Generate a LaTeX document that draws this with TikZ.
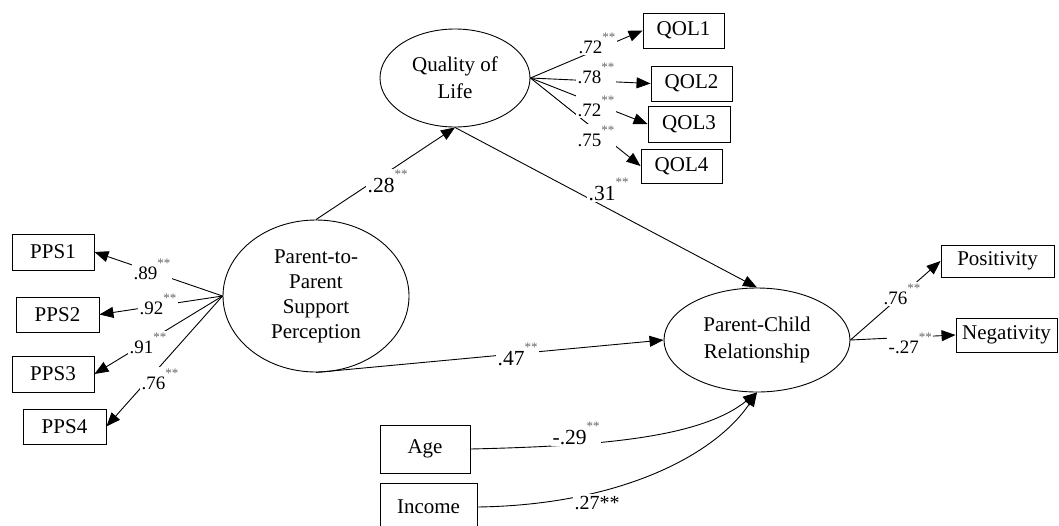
\documentclass[tikz,border=0pt]{standalone}
\usepackage{fontspec}
\setmainfont{Liberation Serif}
\usetikzlibrary{arrows.meta,shapes.geometric}
\newcommand\sig{\raisebox{0.62em}{\fontsize{13}{13}\selectfont\color{black!60}**}}
\begin{document}
\begin{tikzpicture}[x=1pt,y=-1pt,
  lat/.style={ellipse,draw,line width=0.9pt,inner sep=0pt,align=center},
  obs/.style={rectangle,draw,line width=0.9pt,inner sep=0pt,font=\fontsize{21}{21}\selectfont},
  conn/.style={line width=0.9pt,-{Triangle[length=14pt,width=11pt]}},
  lab/.style={fill=white,inner sep=1.5pt,anchor=base west,font=\fontsize{21.5}{21.5}\selectfont},
  sl/.style={lab,font=\fontsize{19}{19}\selectfont}]
\useasboundingbox (0,0) rectangle (1059,525);
% latent variables
\node[lat,minimum width=150pt,minimum height=98pt,font=\fontsize{21}{27}\selectfont] (qol) at (455,78) {Quality of\\Life};
\node[lat,minimum width=186pt,minimum height=152pt,font=\fontsize{21}{25}\selectfont] (pps) at (316,296) {Parent-to-\\Parent\\Support\\Perception};
\node[lat,minimum width=186pt,minimum height=104pt,font=\fontsize{21}{27}\selectfont] (pc) at (757,340) {Parent-Child\\Relationship};
% observed
\node[obs,minimum width=81pt,minimum height=35pt] (q1) at (683.5,30.5) {QOL1};
\node[obs,minimum width=81pt,minimum height=35pt] (q2) at (691.5,83.5) {QOL2};
\node[obs,minimum width=82pt,minimum height=36pt] (q3) at (689,124) {QOL3};
\node[obs,minimum width=81pt,minimum height=34pt] (q4) at (681.5,166) {QOL4};
\node[obs,minimum width=82pt,minimum height=36pt] (p1) at (53,252) {PPS1};
\node[obs,minimum width=83pt,minimum height=35pt] (p2) at (57.5,314.5) {PPS2};
\node[obs,minimum width=82pt,minimum height=36pt] (p3) at (53,374) {PPS3};
\node[obs,minimum width=83pt,minimum height=35pt] (p4) at (64.5,426.5) {PPS4};
\node[obs,minimum width=113pt,minimum height=32pt] (pos) at (997.5,261) {Positivity};
\node[obs,minimum width=101pt,minimum height=34pt] (neg) at (1006.5,335) {Negativity};
\node[obs,minimum width=90pt,minimum height=48pt] (age) at (425,449) {Age};
\node[obs,minimum width=97pt,minimum height=48pt] (inc) at (428.5,507) {Income};
% connectors
\draw[conn] (qol.east) -- (q1.west);
\draw[conn] (qol.east) -- (q2.west);
\draw[conn] (qol.east) -- (q3.west);
\draw[conn] (qol.east) -- (q4.west);
\draw[conn] (pps.west) -- (p1.east);
\draw[conn] (pps.west) -- (p2.east);
\draw[conn] (pps.west) -- (p3.east);
\draw[conn] (pps.west) -- (p4.east);
\draw[conn] (pps.north) -- (qol.south);
\draw[conn] (qol.south) -- (pc.north);
\draw[conn] (pps.south) -- (pc.west);
\draw[conn] (pc.east) -- (pos.west);
\draw[conn] (pc.east) -- (neg.west);
\draw[conn] (age.east) .. controls (600,446) and (700,438) .. (pc.south);
\draw[conn] (inc.east) .. controls (620,505) and (715,455) .. (pc.south);
% labels
\node[lab] (l28) at (366,192) {.28\sig};
\node[lab] (l31) at (587,200) {.31\sig};
\node[lab] (l47) at (496,365) {.47\sig};
\node[lab] (l29) at (551,444) {-.29\sig};
\node[lab,font=\fontsize{20}{20}\selectfont] (l27i) at (573,509) {.27**};
\node[sl] (lq1) at (577,53) {.72\sig};
\node[sl] (lq2) at (576,83) {.78\sig};
\node[sl] (lq3) at (576,116) {.72\sig};
\node[sl] (lq4) at (576,146) {.75\sig};
\node[sl] (lp1) at (132,279) {.89\sig};
\node[sl] (lp2) at (138,314) {.92\sig};
\node[sl] (lp3) at (128,353) {.91\sig};
\node[sl] (lp4) at (140,389) {.76\sig};
\node[sl] (lpos) at (882,304) {.76\sig};
\node[sl] (lneg) at (887,353) {-.27\sig};
\end{tikzpicture}
\end{document}
